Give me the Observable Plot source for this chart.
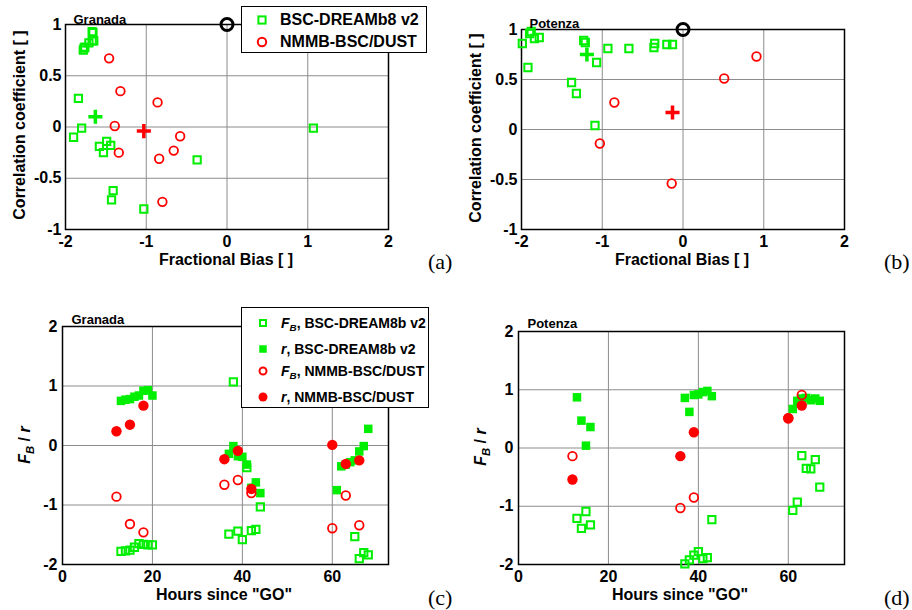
<!DOCTYPE html>
<html><head><meta charset="utf-8">
<script src="https://cdn.jsdelivr.net/npm/d3@7"></script>
<script src="https://cdn.jsdelivr.net/npm/@observablehq/plot@0.6"></script>
<style>
body{margin:0;background:#fff;}
#wrap{position:relative;width:912px;height:610px;font-family:"Liberation Sans",Arial,sans-serif;color:#000;overflow:hidden;}
.lab{position:absolute;font-weight:bold;font-size:16px;white-space:nowrap;transform:translate(-50%,-50%);}
.rot{transform:translate(-50%,-50%) rotate(-90deg);}
.letter{position:absolute;font-family:"Liberation Serif","Times New Roman",serif;font-size:22px;transform:translate(0,-50%);white-space:nowrap;}
.legend{position:absolute;border:1.5px solid #000;background:#fff;box-sizing:border-box;}
.item{position:absolute;font-weight:bold;white-space:nowrap;transform:translateY(-50%);}
.sym{position:absolute;}
sub{font-size:70%;vertical-align:-0.35em;line-height:0;}
</style></head><body><div id="wrap"></div>
<script>
// ---------------- DATA ----------------
// Granada, BSC-DREAM8b v2 (hours since GO, fractional bias, correlation)
const granadaHoursDream = [13,14,15,16,17,18,19,20, 37,38,39,40,41,42,43,44, 61,62,63,64,65,66,67,68];
const granadaFbDream    = [-1.78,-1.77,-1.76,-1.71,-1.65,-1.66,-1.67,-1.67, -1.49,1.07,-1.44,-1.58,-0.37,-1.43,-1.41,-1.03, null,null,null,null,-1.53,-1.90,-1.80,-1.84];
const granadaRDream     = [0.75,0.77,0.78,0.82,0.84,0.92,0.93,0.84, -0.14,-0.01,-0.18,-0.19,-0.32,-0.71,-0.62,-0.80, -0.75,-0.35,-0.32,-0.28,-0.25,-0.10,-0.01,0.28];
// Granada, NMMB-BSC/DUST
const granadaHoursNmmb  = [12,15,18,36,39,42,60,63,66];
const granadaFbNmmb     = [-0.86,-1.32,-1.46,-0.66,-0.58,-0.80,-1.39,-0.84,-1.34];
const granadaRNmmb      = [0.24,0.35,0.67,-0.23,-0.09,-0.73,0.01,-0.31,-0.25];
// Potenza, BSC-DREAM8b v2
const potenzaHoursDream = [13,14,15,16, 37,38,39,40,41,42,43, 61,62,63,64,65,66,67];
const potenzaFbDream    = [-1.21,-1.38,-1.09,-1.32, -1.99,-1.92,-1.84,-1.78,-1.90,-1.88,-1.23, -1.07,-0.93,-0.13,-0.35,-0.36,-0.20,-0.67];
const potenzaRDream     = [0.87,0.47,0.04,0.36, 0.86,0.62,0.91,0.92,0.96,0.98,0.89, 0.67,0.81,0.85,0.86,0.82,0.85,0.81];
// Potenza, NMMB-BSC/DUST
const potenzaHoursNmmb  = [12,36,39,60,63];
const potenzaFbNmmb     = [-0.14,-1.03,-0.85,0.51,0.91];
const potenzaRNmmb      = [-0.54,-0.14,0.27,0.51,0.73];
// mean markers (+): [FB, r]
const granadaMeanDream = [-1.63, 0.10];
const granadaMeanNmmb  = [-1.03, -0.04];
const potenzaMeanDream = [-1.19, 0.75];
const potenzaMeanNmmb  = [-0.13, 0.17];
// perfect score reference
const perfectFb = [0];
const perfectR  = [1];
// ticks
const fbTicks   = [-2,-1,0,1,2];
const rTicks    = [-1,-0.5,0,0.5,1];
const hourTicks = [0,20,40,60];
const valTicks  = [-2,-1,0,1,2];
const hourDomain = [0,72.5];

// ---------------- STYLE ----------------
const GREEN = "#00ee00", RED = "#ff0000", GRID = "#8c8c8c";
const FONT = '"Liberation Sans", Arial, sans-serif';
const tickStyle = {tickSize:0, tickFormat:d=>String(d), fontSize:16, fontWeight:"bold", label:null};

const wrap = document.getElementById("wrap");
function put(node, left, top){
  const d = document.createElement("div");
  d.style.position="absolute"; d.style.left=left+"px"; d.style.top=top+"px";
  d.appendChild(node); wrap.appendChild(d);
}

function scatter(title, fbD, rD, fbN, rN, mD, mN, mt, tdy){
  const iD = d3.range(fbD.length), iN = d3.range(fbN.length);
  return Plot.plot({
    width:456, height:305, marginLeft:65, marginRight:68, marginTop:mt, marginBottom:76,
    x:{domain:[fbTicks[0], fbTicks[fbTicks.length-1]]},
    y:{domain:[rTicks[0], rTicks[rTicks.length-1]]},
    style:{fontFamily:FONT, overflow:"visible", background:"none"},
    marks:[
      Plot.gridX(fbTicks.slice(1,-1), {stroke:GRID, strokeOpacity:1}),
      Plot.gridY(rTicks.slice(1,-1), {stroke:GRID, strokeOpacity:1}),
      Plot.axisX(fbTicks, {...tickStyle, tickPadding:6}),
      Plot.axisY(rTicks, {...tickStyle, tickPadding:4}),
      Plot.frame({stroke:"#000", strokeWidth:1.5}),
      Plot.dot(iD, {x:i=>fbD[i], y:i=>rD[i], symbol:"square", r:4.1, fill:"none", stroke:GREEN, strokeWidth:2}),
      Plot.dot(iN, {x:i=>fbN[i], y:i=>rN[i], symbol:"circle", r:4.3, fill:"none", stroke:RED, strokeWidth:1.8}),
      Plot.dot([mD], {x:d=>d[0], y:d=>d[1], symbol:"plus", r:4.6, stroke:GREEN, strokeWidth:3.5}),
      Plot.dot([mN], {x:d=>d[0], y:d=>d[1], symbol:"plus", r:4.6, stroke:RED, strokeWidth:3.5}),
      Plot.dot(perfectFb, {x:d=>d, y:(d,i)=>perfectR[i], r:6, fill:"none", stroke:"#000", strokeWidth:3}),
      Plot.text([title], {text:d=>d, frameAnchor:"top-left", textAnchor:"start", lineAnchor:"bottom", dx:8, dy:tdy, fontSize:13, fontWeight:"bold"})
    ]
  });
}

function series(title, hD, fbD, rD, hN, fbN, rN, mt, tdy){
  const iD = d3.range(hD.length), iN = d3.range(hN.length);
  return Plot.plot({
    width:456, height:305, marginLeft:62, marginRight:68, marginTop:mt, marginBottom:46,
    x:{domain:hourDomain}, y:{domain:[valTicks[0], valTicks[valTicks.length-1]]},
    style:{fontFamily:FONT, overflow:"visible", background:"none"},
    marks:[
      Plot.gridX(hourTicks.slice(1), {stroke:GRID, strokeOpacity:1}),
      Plot.gridY(valTicks.slice(1,-1), {stroke:GRID, strokeOpacity:1}),
      Plot.axisX(hourTicks, {...tickStyle, tickPadding:6}),
      Plot.axisY(valTicks, {...tickStyle, tickPadding:5}),
      Plot.frame({stroke:"#000", strokeWidth:1.5}),
      Plot.dot(iD, {x:i=>hD[i], y:i=>fbD[i], symbol:"square", r:4.1, fill:"none", stroke:GREEN, strokeWidth:2}),
      Plot.dot(iD, {x:i=>hD[i], y:i=>rD[i], symbol:"square", r:4.8, fill:GREEN, stroke:"none"}),
      Plot.dot(iN, {x:i=>hN[i], y:i=>fbN[i], symbol:"circle", r:4.3, fill:"none", stroke:RED, strokeWidth:1.8}),
      Plot.dot(iN, {x:i=>hN[i], y:i=>rN[i], symbol:"circle", r:5.2, fill:RED, stroke:"none"}),
      Plot.text([title], {text:d=>d, frameAnchor:"top-left", textAnchor:"start", lineAnchor:"bottom", dx:9, dy:tdy, fontSize:13, fontWeight:"bold"})
    ]
  });
}

put(scatter("Granada", granadaFbDream.filter((d,i)=>d!==null), granadaRDream.filter((d,i)=>granadaFbDream[i]!==null),
  granadaFbNmmb, granadaRNmmb, granadaMeanDream, granadaMeanNmmb, 24, -1), 0, 0);
put(scatter("Potenza", potenzaFbDream, potenzaRDream, potenzaFbNmmb, potenzaRNmmb, potenzaMeanDream, potenzaMeanNmmb, 29, -2), 456, 0);
put(series("Granada", granadaHoursDream, granadaFbDream, granadaRDream, granadaHoursNmmb, granadaFbNmmb, granadaRNmmb, 21, -3), 0, 305);
put(series("Potenza", potenzaHoursDream, potenzaFbDream, potenzaRDream, potenzaHoursNmmb, potenzaFbNmmb, potenzaRNmmb, 26, -4), 456, 305);

// ---------------- LABELS ----------------
function label(html, x, y, cls){
  const d = document.createElement("div");
  d.className = cls; d.innerHTML = html; d.style.left=x+"px"; d.style.top=y+"px";
  wrap.appendChild(d); return d;
}
label("Correlation coefficient [ ]", 20, 125, "lab rot");
label("Correlation coefficient [ ]", 476, 128, "lab rot");
label("Fractional Bias [ ]", 226, 260, "lab");
label("Fractional Bias [ ]", 682, 260, "lab");
label('Hours since "GO"', 224, 595, "lab");
label('Hours since "GO"', 680, 595, "lab");
label("<i>F<sub>B</sub></i> / <i>r</i>", 25, 445, "lab rot");
label("<i>F<sub>B</sub></i> / <i>r</i>", 481, 447, "lab rot");
label("(a)", 428, 262, "letter");
label("(b)", 884, 262, "letter");
label("(c)", 428, 598, "letter");
label("(d)", 884, 598, "letter");

// ---------------- LEGENDS ----------------
function box(x,y,w,h){ const d=document.createElement("div"); d.className="legend";
  Object.assign(d.style,{left:x+"px",top:y+"px",width:w+"px",height:h+"px"}); wrap.appendChild(d); }
function sym(kind, cx, cy, s){
  const ns="http://www.w3.org/2000/svg";
  const svg=document.createElementNS(ns,"svg"); svg.setAttribute("width",20); svg.setAttribute("height",20);
  svg.setAttribute("class","sym"); svg.style.left=(cx-10)+"px"; svg.style.top=(cy-10)+"px";
  let el;
  if(kind.startsWith("sq")){ el=document.createElementNS(ns,"rect");
    el.setAttribute("x",10-s/2); el.setAttribute("y",10-s/2); el.setAttribute("width",s); el.setAttribute("height",s);
  } else { el=document.createElementNS(ns,"circle"); el.setAttribute("cx",10); el.setAttribute("cy",10); el.setAttribute("r",s/2); }
  const col = kind.endsWith("G") ? GREEN : RED;
  if(kind.includes("Open")){ el.setAttribute("fill","none"); el.setAttribute("stroke",col); el.setAttribute("stroke-width",2); }
  else { el.setAttribute("fill",col); }
  svg.appendChild(el); wrap.appendChild(svg);
}
function item(html, x, y, fs){ const d=label(html, x, y, "item"); d.style.fontSize=fs+"px"; }

box(241,6,186,47);
sym("sqOpenG",262,19.5,7.2); item("BSC-DREAMb8 v2",280,19.5,16);
sym("ciOpenR",262,42,8.4);   item("NMMB-BSC/DUST",280,42,16);

box(241,307,188,101);
sym("sqOpenG",263,323,6);  item("<i>F<sub>B</sub></i>, BSC-DREAM8b v2",281,323,14);
sym("sqFillG",263,349,7.5);  item("<i>r</i>, BSC-DREAM8b v2",281,349,14);
sym("ciOpenR",263,371,7);  item("<i>F<sub>B</sub></i>, NMMB-BSC/DUST",281,371,14);
sym("ciFillR",263,397,9);  item("<i>r</i>, NMMB-BSC/DUST",281,397,14);
</script></body></html>
